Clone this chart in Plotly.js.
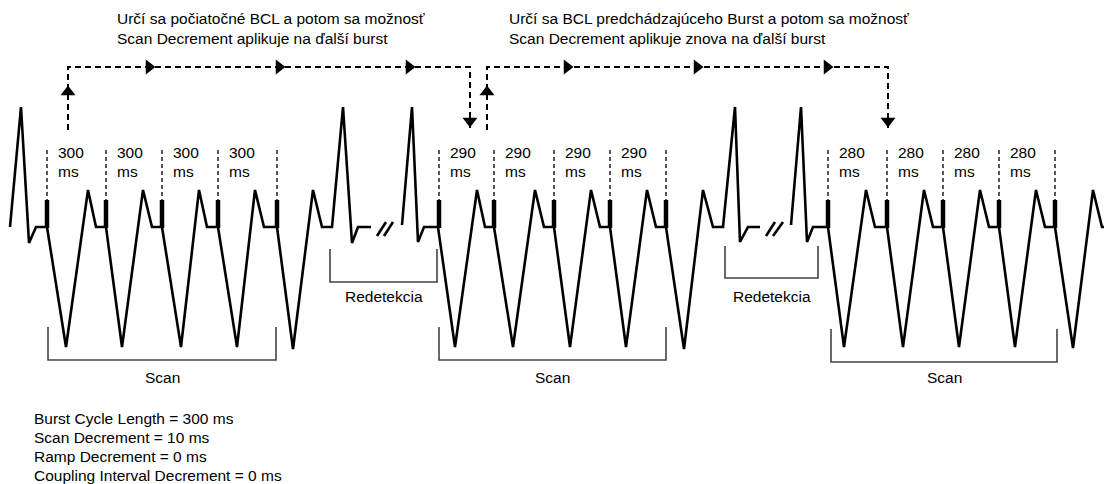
<!DOCTYPE html>
<html>
<head>
<meta charset="utf-8">
<script src="https://cdn.plot.ly/plotly-3.0.1.min.js"></script>
<style>html,body{margin:0;padding:0;background:#fff;}#chart{width:1104px;height:484px;}</style>
</head>
<body>
<div id="chart"></div>
<script>
// ---- Data (diagram units = canvas px) ----
const cycleLengths = [300, 290, 280];
const pulsesPerBurst = 4;
// pacing spike positions for each burst
const spikeX = [
  [47, 106, 162, 218, 277],
  [439, 494, 554, 610, 666],
  [828, 887, 943, 999, 1055]
];
// ECG / burst waveform, three segments separated by the "//" breaks
const wave1X = [10, 21, 29, 36, 47, 66, 88, 96, 106, 122, 143, 152, 162, 181, 199, 207, 218, 237, 255, 264, 277, 293, 313, 322, 332, 343, 352, 358, 371];
const wave1Y = [227, 107, 243, 227, 227, 347, 190, 227, 227, 347, 190, 227, 227, 347, 190, 227, 227, 347, 190, 227, 227, 349, 190, 227, 227, 107, 243, 227, 227];
const wave2X = [402, 412, 418, 424, 438, 455, 477, 485, 494, 513, 535, 544, 554, 570, 591, 600, 610, 626, 647, 656, 666, 684, 703, 713, 723, 735, 740, 748, 760];
const wave2Y = [225, 107, 242, 227, 227, 347, 190, 227, 227, 347, 190, 227, 227, 347, 190, 227, 227, 347, 190, 227, 227, 349, 190, 227, 227, 107, 242, 227, 227];
const wave3X = [791, 801, 807, 813, 828, 844, 866, 875, 887, 903, 924, 933, 943, 959, 980, 989, 999, 1015, 1036, 1045, 1055, 1073, 1093, 1102, 1106];
const wave3Y = [225, 107, 242, 227, 227, 347, 190, 227, 227, 347, 190, 227, 227, 347, 190, 227, 227, 347, 190, 227, 227, 348, 190, 227, 227];
// "//" break marks
const breakX = [377, 386, null, 384, 393, null, 766, 775, null, 773, 783];
const breakY = [236, 222, null, 236, 222, null, 236, 222, null, 236, 222];
// spike geometry and interval marker geometry
const spikeTop = 200, spikeBase = 228, intervalTop = 150;
// brackets: [left, right, top, bottom]
const scanBrackets = [[48, 276, 327, 360], [439, 666, 327, 360], [831, 1057, 329, 362]];
const redetBrackets = [[330, 437, 249, 282], [725, 818, 246, 278]];
const scanLabel = 'Scan';
const redetLabel = 'Redetekcia';
// flow arrows (dashed)
const loop1X = [68, 68, 470, 470];
const loop1Y = [130, 67, 67, 128];
const loop2X = [487, 487, 888, 888];
const loop2Y = [130, 67, 67, 128];
const arrowRightX = [149, 279, 409, 567, 697, 827];
const arrowRightY = [67, 67, 67, 67, 67, 67];
const arrowUpX = [68, 487], arrowUpY = [92, 92];
const arrowDownX = [470, 888], arrowDownY = [121, 121];
// texts
const noteTop1 = ['Určí sa počiatočné BCL a potom sa možnosť', 'Scan Decrement aplikuje na ďalší burst'];
const noteTop2 = ['Určí sa BCL predchádzajúceho Burst a potom sa možnosť', 'Scan Decrement aplikuje znova na ďalší burst'];
const params = ['Burst Cycle Length = 300 ms', 'Scan Decrement = 10 ms', 'Ramp Decrement = 0 ms', 'Coupling Interval Decrement = 0 ms'];
const unitLabel = 'ms';

// ---- Build traces ----
const FONT = 'Liberation Sans, Arial, Helvetica, sans-serif';
const traces = [];
const black = '#000';

traces.push({x: wave1X.concat([null], wave2X, [null], wave3X),
             y: wave1Y.concat([null], wave2Y, [null], wave3Y),
             mode: 'lines', line: {color: black, width: 2.6}, hoverinfo: 'skip', connectgaps: false});
traces.push({x: breakX, y: breakY, mode: 'lines', line: {color: black, width: 2.6}, hoverinfo: 'skip'});

// spikes + interval dashed markers
const sx = [], sy = [], dx = [], dy = [];
spikeX.forEach(g => g.forEach(x => {
  sx.push(x, x, null); sy.push(spikeTop, spikeBase, null);
  dx.push(x, x, null); dy.push(intervalTop, spikeTop, null);
}));
traces.push({x: sx, y: sy, mode: 'lines', line: {color: black, width: 4.5}, hoverinfo: 'skip'});
traces.push({x: dx, y: dy, mode: 'lines', line: {color: '#111', width: 1.4, dash: '4px,3px'}, hoverinfo: 'skip'});

// brackets
const bx = [], by = [];
scanBrackets.concat(redetBrackets).forEach(b => {
  bx.push(b[0], b[0], b[1], b[1], null); by.push(b[2], b[3], b[3], b[2], null);
});
traces.push({x: bx, y: by, mode: 'lines', line: {color: '#444', width: 1.6}, hoverinfo: 'skip'});

// flow loops
[[loop1X, loop1Y], [loop2X, loop2Y]].forEach(l => {
  traces.push({x: l[0], y: l[1], mode: 'lines', line: {color: black, width: 2, dash: '6px,4px'}, hoverinfo: 'skip'});
});
traces.push({x: arrowRightX, y: arrowRightY, mode: 'markers', marker: {symbol: 'triangle-right', size: 13, color: black}, hoverinfo: 'skip'});
traces.push({x: arrowUpX, y: arrowUpY, mode: 'markers', marker: {symbol: 'triangle-up', size: 13, color: black}, hoverinfo: 'skip'});
traces.push({x: arrowDownX, y: arrowDownY, mode: 'markers', marker: {symbol: 'triangle-down', size: 13, color: black}, hoverinfo: 'skip'});

// ---- Annotations ----
const ann = [];
function txt(x, y, t, size, anchor) {
  ann.push({x: x, y: y, xref: 'x', yref: 'y', text: t, showarrow: false,
            xanchor: anchor || 'left', yanchor: 'middle',
            font: {family: FONT, size: size, color: '#000'}});
}
spikeX.forEach((g, gi) => {
  for (let i = 0; i < pulsesPerBurst; i++) {
    txt(g[i] + 9, 152, String(cycleLengths[gi]), 15.5);
    txt(g[i] + 9, 171, unitLabel, 15.5);
  }
});
scanBrackets.forEach(b => txt((b[0] + b[1]) / 2, 377, scanLabel, 15.5, 'center'));
redetBrackets.forEach(b => txt((b[0] + b[1]) / 2, 296, redetLabel, 15.5, 'center'));
noteTop1.forEach((t, i) => txt(115, 18 + i * 20, t, 15.5));
noteTop2.forEach((t, i) => txt(507, 18 + i * 20, t, 15.5));
params.forEach((t, i) => txt(32, 418 + i * 19, t, 15.5));

const layout = {
  width: 1104, height: 484,
  margin: {l: 0, r: 0, t: 0, b: 0, pad: 0},
  paper_bgcolor: '#fff', plot_bgcolor: '#fff',
  showlegend: false,
  xaxis: {range: [0, 1104], visible: false, fixedrange: true},
  yaxis: {range: [484, 0], visible: false, fixedrange: true},
  annotations: ann
};
Plotly.newPlot('chart', traces, layout, {staticPlot: true, displayModeBar: false});
</script>
</body>
</html>
